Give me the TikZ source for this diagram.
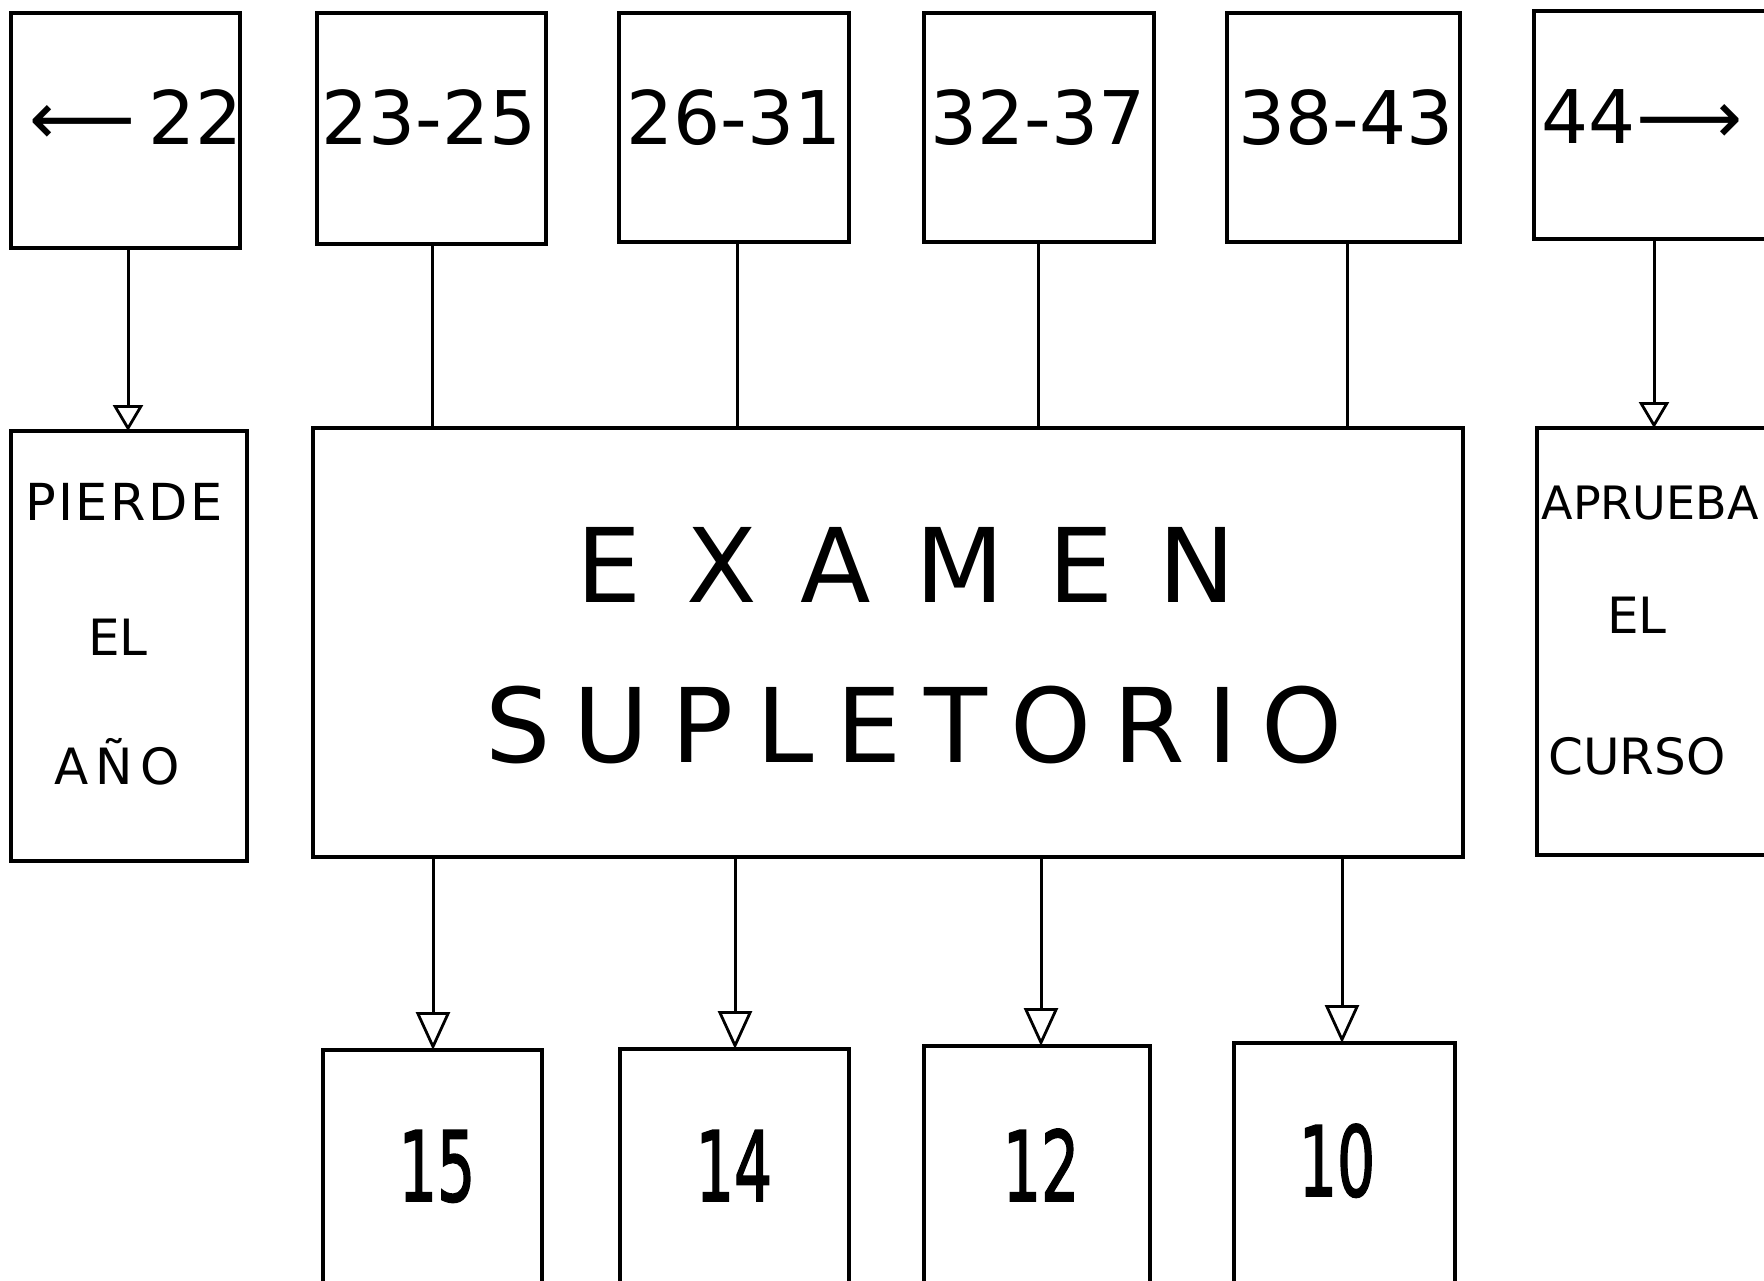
\documentclass[tikz,border=0pt]{standalone}
\usepackage{fontspec}
\usepackage{graphicx}
\setmainfont{DejaVu Sans}
\usetikzlibrary{arrows.meta}
\begin{document}
\begin{tikzpicture}[x=1pt,y=-1pt,
  box/.style={draw,line width=4pt,inner sep=0pt,outer sep=0pt},
  conn/.style={line width=3pt},
  arrS/.style={conn,-{Triangle[open,width=30pt,length=26pt,line width=2.8pt]}},
  arrB/.style={conn,-{Triangle[open,width=34pt,length=38pt,line width=2.8pt]}},
  lab/.style={inner sep=0pt,anchor=base},
  numf/.style={lab,font=\fontsize{74}{80}\selectfont},
  wordf/.style={lab,font=\fontsize{50}{55}\selectfont},
  resf/.style={lab,font=\fontsize{97}{100}\selectfont\addfontfeature{FakeBold=2}}
]
\useasboundingbox (0,0) rectangle (1764,1280);
\fill[white] (0,0) rectangle (1764,1280);
\clip (0,0) rectangle (1764,1280);

% top boxes
\node[box,minimum width=229pt,minimum height=235pt] (b22) at (125.5,130.5) {};
\node[box,minimum width=229pt,minimum height=231pt] (b23) at (431.5,128.5) {};
\node[box,minimum width=230pt,minimum height=229pt] (b26) at (734,127.5) {};
\node[box,minimum width=230pt,minimum height=229pt] (b32) at (1039,127.5) {};
\node[box,minimum width=233pt,minimum height=229pt] (b38) at (1343.5,127.5) {};
\node[box,minimum width=266pt,minimum height=228pt] (b44) at (1667,125) {};

% middle boxes
\node[box,minimum width=236pt,minimum height=430pt] (pierde) at (129,646) {};
\node[box,minimum width=1150pt,minimum height=429pt] (examen) at (888,642.5) {};
\node[box,minimum width=263pt,minimum height=427pt] (aprueba) at (1668.5,641.5) {};

% bottom boxes
\node[box,minimum width=219pt,minimum height=270pt] (r15) at (432.5,1185) {};
\node[box,minimum width=229pt,minimum height=270pt] (r14) at (734.5,1184) {};
\node[box,minimum width=226pt,minimum height=270pt] (r12) at (1037,1181) {};
\node[box,minimum width=221pt,minimum height=270pt] (r10) at (1344.5,1178) {};

% column coordinates
\coordinate (k0) at (128,0);
\coordinate (k1) at (432,0);
\coordinate (k2) at (737,0);
\coordinate (k3) at (1038,0);
\coordinate (k4) at (1347,0);
\coordinate (k5) at (1654,0);
\coordinate (d1) at (433,0);
\coordinate (d2) at (735,0);
\coordinate (d3) at (1041,0);
\coordinate (d4) at (1342,0);

% connectors
\draw[arrS] (b22.south -| k0) -- (pierde.north -| k0);
\draw[conn] (b23.south -| k1) -- (examen.north -| k1);
\draw[conn] (b26.south -| k2) -- (examen.north -| k2);
\draw[conn] (b32.south -| k3) -- (examen.north -| k3);
\draw[conn] (b38.south -| k4) -- (examen.north -| k4);
\draw[arrS] (b44.south -| k5) -- (aprueba.north -| k5);
\draw[arrB] (examen.south -| d1) -- (r15.north -| d1);
\draw[arrB] (examen.south -| d2) -- (r14.north -| d2);
\draw[arrB] (examen.south -| d3) -- (r12.north -| d3);
\draw[arrB] (examen.south -| d4) -- (r10.north -| d4);

% texts
\node[numf] (t22) at (136,144) {⟵\,22};
\node[numf] (t23) at (429,144) {23-25};
\node[numf] (t26) at (734,144) {26-31};
\node[numf] (t32) at (1038,144) {32-37};
\node[numf] (t38) at (1346,144) {38-43};
\node[numf] (t44) at (1642,143) {44⟶};

\node[wordf,font=\fontsize{51}{55}\selectfont\addfontfeature{LetterSpace=5}] (p1) at (124,520) {PIERDE};
\node[wordf] (p2) at (118,655) {EL};
\node[wordf,font=\fontsize{50}{55}\selectfont\addfontfeature{LetterSpace=15}] (p3) at (117,784) {AÑO};

\node[lab,font=\fontsize{103}{110}\selectfont\addfontfeature{LetterSpace=43}] (e1) at (906,602) {EXAMEN};
\node[lab,font=\fontsize{103}{110}\selectfont\addfontfeature{LetterSpace=22}] (e2) at (914,762) {SUPLETORIO};

\node[wordf,font=\fontsize{46}{50}\selectfont] (a1) at (1650,519) {APRUEBA};
\node[wordf] (a2) at (1637,633) {EL};
\node[wordf] (a3) at (1637,774) {CURSO};

\node[resf] (n15) at (437,1201) {\scalebox{0.62}[1]{15}};
\node[resf] (n14) at (734,1201) {\scalebox{0.62}[1]{14}};
\node[resf] (n12) at (1041,1201) {\scalebox{0.62}[1]{12}};
\node[resf] (n10) at (1337,1196) {\scalebox{0.62}[1]{10}};
\end{tikzpicture}
\end{document}
